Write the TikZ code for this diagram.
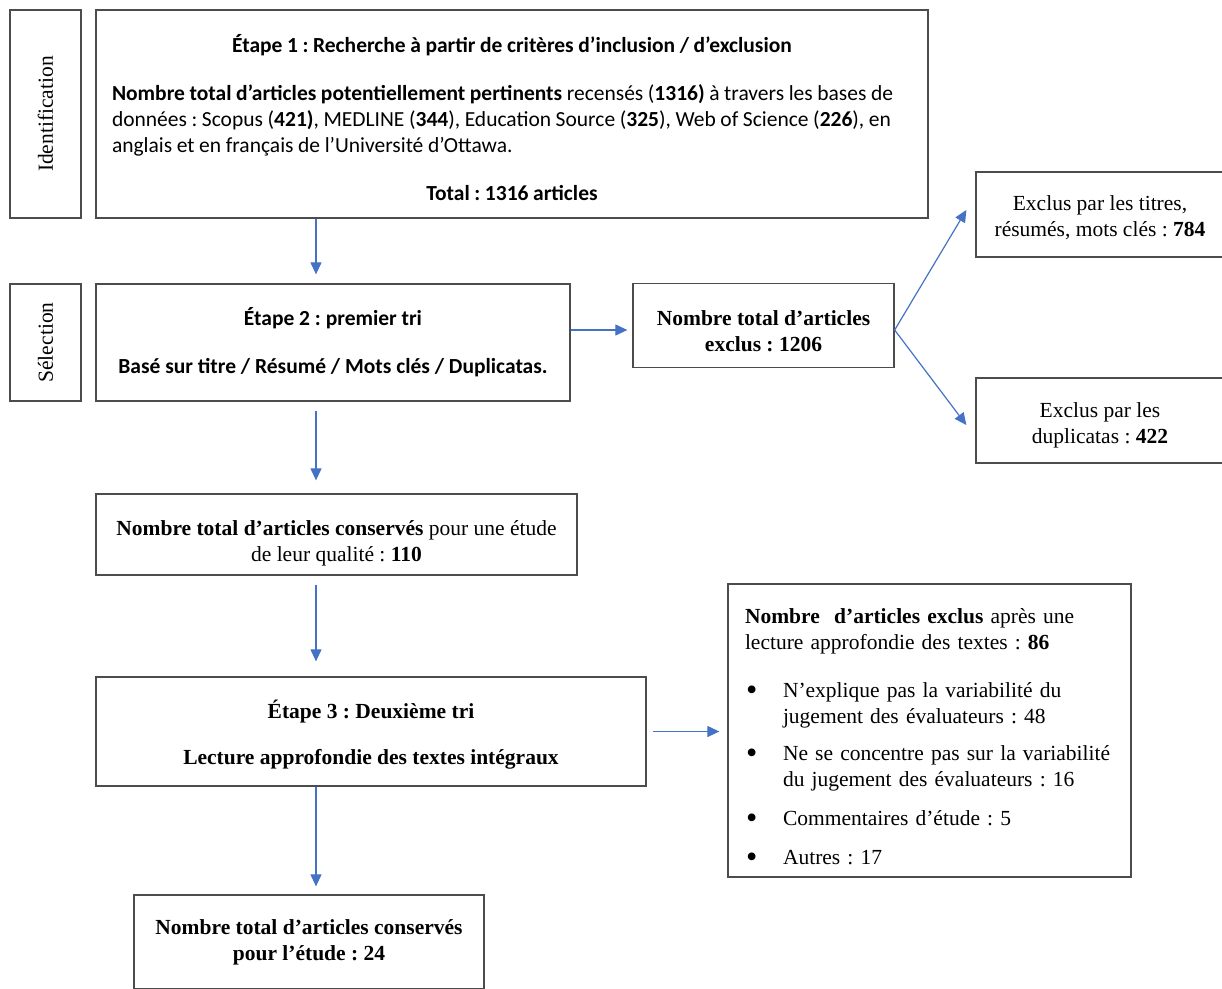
\documentclass[tikz,border=0pt]{standalone}
\usepackage{fontspec}
\setmainfont{Liberation Serif}
\newfontfamily\calibri{Carlito}
\usetikzlibrary{arrows.meta}
\definecolor{arrblue}{HTML}{4472C4}
\setlength{\parindent}{0pt}
\frenchspacing
\newcommand{\puce}{\makebox[38pt][l]{\hspace{1pt}\raisebox{-3pt}{\scalebox{1.5}{\textbullet}}}}
\newcommand{\haut}[1]{\rule{0pt}{#1}}

\begin{document}
\begin{tikzpicture}[x=1pt,y=-1pt,
		box/.style={draw=black!70,line width=1.3pt,inner sep=0pt,align=center,font=\fontsize{21.5}{26}\selectfont},
		sans/.style={font=\calibri\fontsize{21.5}{26}\selectfont},
		arr/.style={arrblue,line width=1.2pt,-{Triangle[length=12pt,width=11pt]}}]
	\clip (0,0) rectangle (1222,988);
	%
	\node[box,rotate=90,minimum width=208,minimum height=71] (id) at (45.5,114) {Identification};
	\node[box,rotate=90,minimum width=117,minimum height=71] (sel) at (45.5,342.5) {Sélection};
	%
	\node[box,sans,align=left,text width=800pt,inner xsep=16pt,minimum width=832,minimum height=208] (e1) at (512,114) {%
		\spaceskip=0.945\fontdimen2\font
		{\centering\bfseries\haut{25pt}Étape 1 : Recherche à partir de critères d’inclusion / d’exclusion\par}
		\vspace{22pt}
		\mbox{\textbf{Nombre total d’articles potentiellement pertinents} recensés (\textbf{1316)} à travers les bases de}\\
		\mbox{données : Scopus (\textbf{421)}, MEDLINE (\textbf{344}), Education Source (\textbf{325}), Web of Science (\textbf{226}), en}\\
		anglais et en français de l’Université d’Ottawa.\par
		\vspace{22pt}
		{\centering\bfseries Total : 1316 articles\par}};
	\node[box,sans,minimum width=474,minimum height=117] (e2) at (333,342.5) {\textbf{Étape 2 : premier tri}\\[22pt]\textbf{Basé sur titre / Résumé / Mots clés / Duplicatas.}};
	\node[box,minimum width=261,minimum height=84] (ex) at (763.5,325.5) {\haut{26.5pt}\textbf{Nombre total d’articles}\\\textbf{exclus : 1206}};
	\node[box,minimum width=248,minimum height=85] (ex1) at (1100,214.5) {\haut{20.7pt}Exclus par les titres,\\résumés, mots clés : \textbf{784}};
	\node[box,minimum width=248,minimum height=85] (ex2) at (1100,420.5) {\haut{24.7pt}Exclus par les\\duplicatas : \textbf{422}};
	%
	\node[box,minimum width=481,minimum height=81] (c1) at (336.5,534.5) {\haut{31.7pt}\textbf{Nombre total d’articles conservés} pour une étude\\de leur qualité : \textbf{110}};
	\node[box,minimum width=550,minimum height=109] (e3) at (371,731.5) {\haut{25.3pt}\textbf{Étape 3 : Deuxième tri}\\[20pt]\textbf{Lecture approfondie des textes intégraux}};
	\node[box,align=left,text width=369pt,inner xsep=17pt,minimum width=403,minimum height=293] (ex3) at (929.5,730.5) {%
		\haut{29.7pt}\textbf{Nombre\ \ d’articles exclus} après une\\
		lecture approfondie des textes : \textbf{86}\par
		\vspace{22pt}
		\hangindent=38pt\hangafter=1\puce N’explique pas la variabilité du\newline
		jugement des évaluateurs : 48\par
		\vspace{11pt}
		\hangindent=38pt\hangafter=1\puce Ne se concentre pas sur la variabilité\newline
		du jugement des évaluateurs : 16\par
		\vspace{13pt}
		\puce Commentaires d’étude : 5\par
		\vspace{13pt}
		\puce Autres : 17\par};
	\node[box,minimum width=350,minimum height=94] (c2) at (309,942) {\textbf{Nombre total d’articles conservés}\\\textbf{pour l’étude : 24}};
	%
	\coordinate (ax) at (316,0);
	\draw[arr] (e1.south -| ax) -- ([yshift=9]e2.north -| ax);
	\draw[arr] ([yshift=-4.5]ex.west -| e2.east) -- ([xshift=-5,yshift=-4.5]ex.west);
	\draw[arr] ([yshift=-4.5]ex.east) -- ([xshift=-9,yshift=4.5]ex1.west);
	\draw[arr] ([yshift=-4.5]ex.east) -- ([xshift=-9,yshift=-4.5]ex2.west);
	\draw[arr] ([yshift=-9]e2.south -| ax) -- ([yshift=13]c1.north -| ax);
	\draw[arr] ([yshift=-9]c1.south -| ax) -- ([yshift=15]e3.north -| ax);
	\draw[arr] ([xshift=6]e3.east) -- ([xshift=-8]ex3.west |- e3.east);
	\draw[arr] (e3.south -| ax) -- ([yshift=8]c2.north -| ax);
\end{tikzpicture}
\end{document}
